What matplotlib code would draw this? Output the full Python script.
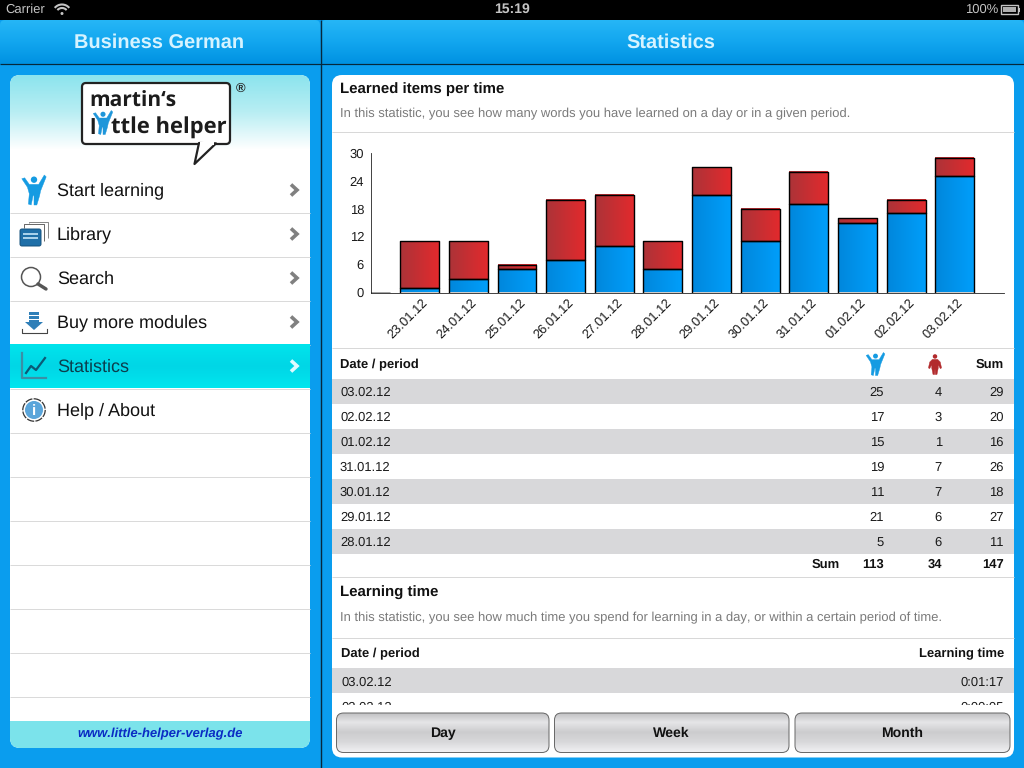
import numpy as np
import matplotlib
matplotlib.use("Agg")
import matplotlib.pyplot as plt
from matplotlib.patches import FancyBboxPatch, Rectangle, Circle, Polygon, Arc
from matplotlib.colors import LinearSegmentedColormap
from matplotlib.transforms import ScaledTranslation

plt.rcParams['font.family'] = ['Liberation Sans', 'DejaVu Sans']
plt.rcParams['text.hinting'] = 'no_hinting'
plt.rcParams['text.hinting_factor'] = 1

# ---------- data ----------
dates = ['', '23.01.12', '24.01.12', '25.01.12', '26.01.12', '27.01.12', '28.01.12',
         '29.01.12', '30.01.12', '31.01.12', '01.02.12', '02.02.12', '03.02.12']
learned = [0, 1, 3, 5, 7, 10, 5, 21, 11, 19, 15, 17, 25]
failed = [0, 10, 8, 1, 13, 11, 6, 6, 7, 7, 1, 3, 4]
y_ticks = [0, 6, 12, 18, 24, 30]
table_dates = ['03.02.12', '02.02.12', '01.02.12', '31.01.12', '30.01.12', '29.01.12', '28.01.12']
table_learned = [25, 17, 15, 19, 11, 21, 5]
table_failed = [4, 3, 1, 7, 7, 6, 6]
table_sum = [29, 20, 16, 26, 18, 27, 11]
totals = [113, 34, 147]
time_dates = ['03.02.12', '02.02.12']
time_values = ['0:01:17', '0:00:05']
menu_items = ['Start learning', 'Library', 'Search', 'Buy more modules', 'Statistics', 'Help / About']
buttons = ['Day', 'Week', 'Month']

BG = '#0A9DEE'
PX = 0.72  # one pixel in points
fig = plt.figure(figsize=(10.24, 7.68), dpi=100, facecolor=BG)
ui = fig.add_axes([0, 0, 1, 1])
ui.set_xlim(0, 1024)
ui.set_ylim(768, 0)
ui.axis('off')


def rect(x0, y0, x1, y1, c, z=1, **k):
    p = Rectangle((x0, y0), x1 - x0, y1 - y0, fc=c, ec='none', zorder=z, **k)
    ui.add_patch(p)
    return p


def rrect(x0, y0, x1, y1, r, fc, ec='none', lw=0, z=1):
    p = FancyBboxPatch((x0, y0), x1 - x0, y1 - y0, boxstyle=f'round,pad=0,rounding_size={r}',
                       fc=fc, ec=ec, lw=lw, zorder=z)
    ui.add_patch(p)
    return p


def grad(x0, y0, x1, y1, stops, z=1, clip=None):
    cm = LinearSegmentedColormap.from_list('g', stops)
    im = ui.imshow(np.linspace(0, 1, 64)[:, None], extent=(x0, x1, y1, y0), cmap=cm, aspect='auto',
                   zorder=z, origin='upper', interpolation='bilinear')
    if clip is not None:
        im.set_clip_path(clip)
    return im


def line(xs, ys, c='k', lw=1, z=3, cap='butt'):
    ui.plot(xs, ys, color=c, lw=lw * PX, zorder=z, solid_capstyle=cap)


def txt(x, y, s, size=9.4, c='#1a1a1a', ha='left', w='normal', z=5, nudge=0.0, **k):
    # y is the visual centre of capitals/digits; a whole-pixel baseline keeps rows steady
    base = round(y - 0.3 + 0.358 * size * 100 / 72) + nudge
    return ui.text(x, base, s, fontsize=size, color=c, ha=ha, va='baseline', fontweight=w, zorder=z, **k)


def cell(x, y, s):
    # the glyph 5 alone sits one pixel high at this size
    txt(x, y, s, 9.3, ha='right', nudge=0.4 if s in ('5', '15') else 0.0)


def person(cx, cy, h, c, z=4, up=True):
    """small figure icon; cx,cy = centre, h = height"""
    s = h / 32.0
    if up:
        body = [(-13, -12), (-10, -13), (-5, -6), (5, -6), (11, -16), (13, -14), (7, 1), (6, 6), (3, 16),
                (0, 16), (0, 6), (-1, 6), (-3, 16), (-6, 15), (-5, 4), (-7, -3)]
        head = (0, -11)
    else:
        body = [(-4, -7), (4, -7), (8, -3), (10, 6), (8, 7), (5, 1), (5, 6), (3, 16),
                (0.5, 16), (0, 7), (-0.5, 16), (-3, 16), (-5, 6), (-5, 1), (-8, 7), (-10, 6), (-8, -3)]
        head = (0, -11.5)
    ui.add_patch(Polygon([(cx + a * s, cy + b * s) for a, b in body], fc=c, ec=c, lw=0.3, zorder=z,
                         joinstyle='round'))
    ui.add_patch(Circle((cx + head[0] * s, cy + head[1] * s), 3.4 * s, fc=c, ec='none', zorder=z))


# ---------- status bar ----------
rect(0, 0, 1024, 20, 'black', 1)
GR = '#c4c4c4'
txt(5, 8.5, 'Carrier', 9.6, GR)
for r in (9.5, 6):
    ui.add_patch(Arc((62, 14), 2 * r, 2 * r, theta1=-140, theta2=-40, color=GR, lw=1.5, zorder=3))
ui.add_patch(Circle((62, 13.5), 1.5, fc=GR, ec='none', zorder=3))
txt(512, 8.5, '15:19', 10, GR, ha='center', w='bold')
txt(965, 8.5, '100%', 9.5, GR)
ui.add_patch(Rectangle((1000.5, 5), 17.5, 9, fc='none', ec=GR, lw=1, zorder=3))
rect(1002.5, 7, 1015.5, 12, '#b0b0b0', 3)
rect(1018.5, 8, 1020, 11.5, GR, 3)

# ---------- headers ----------
hl = rrect(0, 20, 320, 80, 5, BG, z=1)
grad(0, 20, 320, 64, ['#26B6F6', '#12A6EF', '#0092E2'], 2, hl)
hr = rrect(321, 20, 1024, 80, 5, BG, z=1)
grad(321, 20, 1024, 64, ['#26B6F6', '#12A6EF', '#0092E2'], 2, hr)
line([0, 1024], [63.5, 63.5], '#06283C', 1.2, 3)
line([320.5, 320.5], [20, 768], '#06283C', 1.4, 3)
txt(159, 41, 'Business German', 14.3, '#D6F3FF', ha='center', w='bold')
txt(671, 41, 'Statistics', 14.3, '#D6F3FF', ha='center', w='bold')

# ---------- left panel ----------
lp = rrect(10, 75, 310, 748, 10, 'white', z=1)
grad(10, 75, 310, 150, ['#8CE4EE', '#B9EEF3', '#FFFFFF'], 2, lp)
rect(10, 721, 310, 748, '#7BE3EB', 2, clip_path=lp)
txt(160, 733, 'www.little-helper-verlag.de', 9.3, '#0A2CC4', ha='center', w='bold', style='italic')

grad(10, 345, 310, 388.5, ['#00E4EC', '#00D6E6', '#00E6EE'], 3)
for yy in [212, 256, 300, 344, 388, 432, 476, 520, 564, 608, 652, 696]:
    line([10, 310], [yy + .5, yy + .5], '#DADADA', 1, 2.5)

row_y = [189.5, 233.5, 277.5, 321.5, 365.5, 409.5]
for i, (name, yy) in enumerate(zip(menu_items, row_y)):
    c = '#0B3E4C' if name == 'Statistics' else '#111111'
    txt(57, yy, name, 12.9, c, nudge=-0.4)
    if i < 5:
        cc = '#DFFBFF' if name == 'Statistics' else '#808080'
        ui.plot([291, 297, 291], [yy - 5, yy + .5, yy + 6], color=cc, lw=2.6, zorder=5,
                solid_joinstyle='miter', solid_capstyle='butt')

# logo
rrect(82, 83, 230, 144, 4, 'white', '#222222', 1.6, 6)
ui.add_patch(Polygon([(199, 143), (194.5, 164), (216, 143.4)], fc='white', ec='#222222', lw=1.6, zorder=7,
                     joinstyle='round'))
rect(200, 142, 214, 145, 'white', 8)
txt(89, 99.5, 'martin‘s', 15, '#1c1c1c', w='bold', z=8, family='Open Sans')
txt(89, 126.5, 'l', 15, '#1c1c1c', w='bold', z=8, family='Open Sans')
person(103, 122.5, 24, '#1E96DA', 8)
txt(111, 126.5, 'ttle helper', 15.6, '#1c1c1c', w='bold', z=8, family='Open Sans')
txt(241, 88, '®', 9.5, '#222222', ha='center', w='bold', z=8)

# menu icons
person(34, 190, 30, '#159BE2')
# library
line([24, 24, 44, 44], [228, 224, 224, 241], '#6a6a6a', 1, 4)
line([29, 29, 48, 48], [223, 222, 222, 238], '#8a8a8a', 1, 4)
rrect(20, 229, 41, 246, 2, '#1F6FA8', '#14507C', 0.7, 4)
for yy in (234, 238):
    line([23, 38], [yy, yy], '#A8D0EA', 2, 5)
# search
ui.add_patch(Circle((31, 277), 9.5, fc='white', ec='#555555', lw=1.1, zorder=4))
line([38, 46], [284, 289], '#555555', 3.4, 4, cap='round')
# buy
ui.add_patch(Polygon([(29, 320), (39, 320), (39, 322), (43, 322), (34, 330), (25, 322), (29, 322)],
                     fc='#2F7FB8', ec='none', zorder=4))
rect(29, 312, 39, 314.5, '#2F7FB8', 4)
rect(29, 316, 39, 318.5, '#2F7FB8', 4)
ui.plot([21.5, 21.5, 46.5, 46.5], [329, 333, 333, 329], color='#444444', lw=0.8, zorder=4)
# statistics
ui.plot([21.5, 21.5, 46], [353, 378, 378], color='#3A8FA6', lw=1.6, zorder=5)
ui.plot([26, 31, 36, 45], [373, 366, 370, 358], color='#0B5A76', lw=1.6, zorder=5)
# info
ui.add_patch(Circle((34, 410), 11.2, fc='white', ec='#333333', lw=0.9, ls=(0, (6, 1)), zorder=4))
ui.add_patch(Circle((34, 410), 9, fc='#5AA5DA', ec='none', zorder=5))
txt(34, 410, 'i', 11, 'white', ha='center', w='bold', z=6)

# ---------- right panel ----------
rp = rrect(332, 75, 1014, 757.5, 10, 'white', z=1)
txt(340, 87.5, 'Learned items per time', 10.8, '#111111', w='bold')
txt(340, 112.5, 'In this statistic, you see how many words you have learned on a day or in a given period.',
    9.3, '#7a7a7a')
for yy in (131, 347, 576, 637):
    line([332, 1014], [yy + .5, yy + .5], '#D8D8D8', 1, 2)

txt(340, 363.5, 'Date / period', 9.3, '#111111', w='bold')
txt(1003.5, 363.5, 'Sum', 9.3, '#111111', ha='right', w='bold')
person(875.5, 364, 23, '#159BE2')
person(935, 364, 21, '#B22A2C', up=False)

for i, d in enumerate(table_dates):
    yc = 391 + 25 * i
    if i % 2 == 0:
        rect(332, yc - 12, 1014, yc + 13, '#D8D8DA', 2)
    txt(340, yc + 1, d, 9.3)
    cell(884, yc + 1, str(table_learned[i]))
    cell(942, yc + 1, str(table_failed[i]))
    cell(1003.5, yc + 1, str(table_sum[i]))

txt(840, 564, 'Sum', 9.3, '#111111', ha='right', w='bold')
for xr, v in zip((884, 942, 1003.5), totals):
    txt(xr, 564, str(v), 9.3, '#111111', ha='right', w='bold')

txt(340, 591.5, 'Learning time', 10.8, '#111111', w='bold')
txt(340, 616.5, 'In this statistic, you see how much time you spend for learning in a day, or within a certain period of time.',
    9.3, '#7a7a7a')
txt(341, 653, 'Date / period', 9.3, '#111111', w='bold')
txt(1004, 653, 'Learning time', 9.3, '#111111', ha='right', w='bold')
rect(332, 668, 1014, 693, '#D8D8DA', 2)
for i, (d, v) in enumerate(zip(time_dates, time_values)):
    yc = 682 + 25 * i
    txt(341, yc, d, 9.3)
    txt(1003.5, yc, v, 9.3, ha='right')
rect(333, 705, 1013, 713, 'white', 6)

# buttons
for name, (x0, x1) in zip(buttons, ((336.5, 549), (554.5, 789), (795, 1010))):
    b = rrect(x0, 713, x1, 752.5, 7, '#D0D0D2', z=7)
    grad(x0, 713, x1, 752.5, ['#BEBEC0', '#E6E6E8', '#CCCCCE', '#D8D8DA', '#F0F0F2'], 7.5, b)
    rrect(x0, 713, x1, 752.5, 7, 'none', '#666666', 0.7, 8)
    txt((x0 + x1) / 2, 732.5, name, 10.4, '#111111', ha='center', w='bold', z=9)

ui.set_xlim(0, 1024)
ui.set_ylim(768, 0)

# ---------- chart ----------
W, H = 1024.0, 768.0
ax = fig.add_axes([371 / W, 1 - 292.5 / H, (1003.5 - 371) / W, (292.5 - 153) / H], zorder=5)
ax.patch.set_alpha(0)
x = np.arange(len(dates)) + 0.0
blue_bars = ax.bar(x, learned, width=0.8, facecolor='none', edgecolor='black', linewidth=1.0,
                   joinstyle='round', zorder=3)
red_bars = ax.bar(x, failed, width=0.8, bottom=learned, facecolor='none', edgecolor='black', linewidth=1.0,
                  joinstyle='round', zorder=3)
blue_cm = LinearSegmentedColormap.from_list('b', ['#0087DC', '#009EFA'])
red_cm = LinearSegmentedColormap.from_list('r', ['#AC3338', '#E22A2D'])
for bars, cm in ((blue_bars, blue_cm), (red_bars, red_cm)):
    for bar in bars:
        if bar.get_height() <= 0:
            continue
        bx, by, bw, bh = bar.get_x(), bar.get_y(), bar.get_width(), bar.get_height()
        ax.imshow(np.linspace(0, 1, 32)[None, :], extent=(bx, bx + bw, by, by + bh), cmap=cm,
                  aspect='auto', zorder=2.9, interpolation='bilinear')
ax.set_xlim(0, 13)
ax.set_ylim(0, 30)
ax.set_yticks(y_ticks)
ax.set_xticks(x[1:])
ax.set_xticklabels(dates[1:], rotation=45, ha='right', va='top', rotation_mode='anchor')
ax.tick_params(axis='x', length=0, labelsize=9.2, labelcolor='#1a1a1a', pad=3)
ax.tick_params(axis='y', length=0, labelsize=9.5, labelcolor='#1a1a1a', pad=5)
shift = ScaledTranslation(2 / 100, 0, fig.dpi_scale_trans)
for lab in ax.get_xticklabels():
    lab.set_transform(lab.get_transform() + shift)
for s in ('top', 'right'):
    ax.spines[s].set_visible(False)
for s in ('left', 'bottom'):
    ax.spines[s].set_linewidth(0.6)
    ax.spines[s].set_color('#222222')

fig.savefig('out.png', dpi=100, facecolor=BG)
